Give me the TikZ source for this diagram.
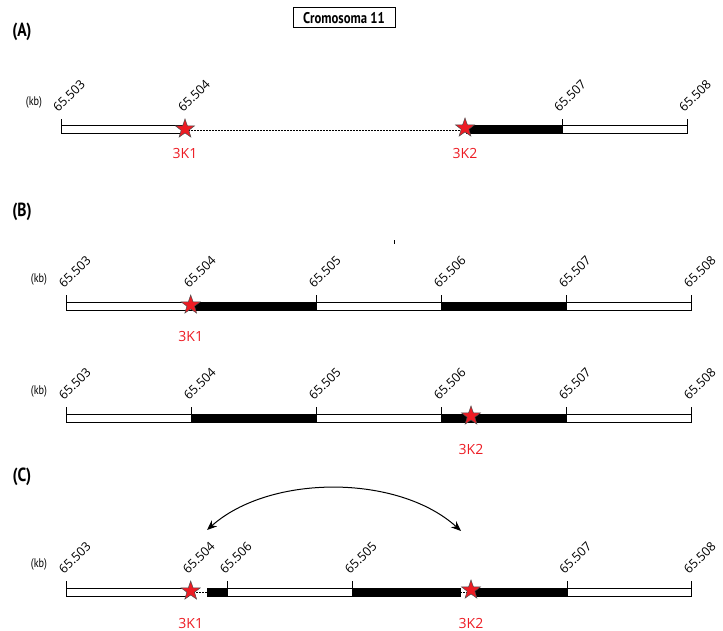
\documentclass[tikz,border=0pt]{standalone}
\usepackage{fontspec}
\setmainfont{Open Sans}
\newfontfamily\cond[FakeStretch=0.82]{PT Sans}
\usetikzlibrary{shapes.geometric,arrows.meta}
\definecolor{kred}{HTML}{ED1C24}
\tikzset{
 whitebar/.style={draw=black,fill=white,line width=1pt},
 blackbar/.style={draw=black,fill=black,line width=1pt},
 tickline/.style={draw=black,line width=1pt},
 ticklabel/.style={rotate=45,anchor=south west,inner sep=0pt,font=\fontsize{12.5}{12.5}\selectfont},
 kstar/.style={star,star points=5,star point ratio=2.5,fill=kred,draw=black!70,line width=0.5pt,minimum size=20pt,inner sep=0pt},
 klabel/.style={text=kred,font=\fontsize{14}{14}\selectfont,inner sep=0pt},
 kblabel/.style={font=\cond\fontsize{12.5}{12.5}\selectfont,inner sep=0pt},
 panel/.style={font=\cond\bfseries\fontsize{19}{19}\selectfont,inner sep=0pt},
 joinline/.style={dash pattern=on 2pt off 1pt,line width=0.9pt},
 arc/.style={{Stealth[length=10pt,width=8pt]}-{Stealth[length=10pt,width=8pt]},line width=1pt}
}
% \tkmark{x}{ybottom}{ytop}{label}{name}
\newcommand{\tkmark}[5]{%
 \draw[tickline] (#1,#2) -- (#1,#3);
 \node[ticklabel] (#5) at ({#1-2.5},{#3-6}) {#4};}
% label only (tick hidden by a star)
\newcommand{\tklab}[4]{%
 \node[ticklabel] (#4) at ({#1-2.5},{#2-6}) {#3};}
\begin{document}
\begin{tikzpicture}[x=1pt,y=-1pt]
\useasboundingbox (0,0) rectangle (723,631);

\node[draw,line width=1pt,minimum width=102pt,minimum height=20pt,inner sep=0pt,
 font=\cond\bfseries\fontsize{15.5}{15.5}\selectfont] (title) at (344,18) {Cromosoma 11};

% ---------------- (A)
\node[panel] (pA) at (22,32) {(A)};
\node[kblabel] (kbA) at (34,102) {(kb)};
\draw[whitebar] (61,126) rectangle (183,134);
\draw[joinline] (185,130) -- (465,130);
\draw[blackbar] (466,126) rectangle (562,134);
\draw[whitebar] (562,126) rectangle (687,134);
\tkmark{61}{134}{119}{65.503}{a1}
\tklab{186}{119}{65.504}{a2}
\tkmark{562}{134}{119}{65.507}{a5}
\tkmark{687}{134}{119}{65.508}{a6}
\node[kstar] (sA1) at (185,129) {};
\node[kstar] (sA2) at (465,128) {};
\node[klabel] (lA1) at (185,154) {3K1};
\node[klabel] (lA2) at (465,154) {3K2};

% ---------------- (B)
\node[panel] (pB) at (22,212) {(B)};
\draw[line width=1pt] (394,240.5) -- (394,244);
% B1
\node[kblabel] (kbB1) at (39,279) {(kb)};
\draw[whitebar] (66.7,302) rectangle (191.7,310);
\draw[blackbar] (191.7,302) rectangle (316.7,310);
\draw[whitebar] (316.7,302) rectangle (441.7,310);
\draw[blackbar] (441.7,302) rectangle (566.7,310);
\draw[whitebar] (566.7,302) rectangle (691.7,310);
\tkmark{66.7}{310}{295}{65.503}{b1}
\tklab{191.7}{295}{65.504}{b2}
\tkmark{316.7}{310}{295}{65.505}{b3}
\tkmark{441.7}{310}{295}{65.506}{b4}
\tkmark{566.7}{310}{295}{65.507}{b5}
\tkmark{691.7}{310}{295}{65.508}{b6}
\node[kstar] (sB1) at (190.7,305) {};
\node[klabel] (lB1) at (190.7,336) {3K1};
% B2
\node[kblabel] (kbB2) at (39,391) {(kb)};
\draw[whitebar] (66.7,414) rectangle (191.7,422);
\draw[blackbar] (191.7,414) rectangle (316.7,422);
\draw[whitebar] (316.7,414) rectangle (441.7,422);
\draw[blackbar] (441.7,414) rectangle (566.7,422);
\draw[whitebar] (566.7,414) rectangle (691.7,422);
\tkmark{66.7}{422}{407}{65.503}{c1}
\tkmark{191.7}{422}{407}{65.504}{c2}
\tkmark{316.7}{422}{407}{65.505}{c3}
\tkmark{441.7}{422}{407}{65.506}{c4}
\tkmark{566.7}{422}{407}{65.507}{c5}
\tkmark{691.7}{422}{407}{65.508}{c6}
\node[kstar] (sB2) at (471,416) {};
\node[klabel] (lB2) at (471,449) {3K2};

% ---------------- (C)
\node[panel] (pC) at (22,477) {(C)};
\node[kblabel] (kbC) at (39,564) {(kb)};
\draw[whitebar] (66.7,588) rectangle (188,596);
\draw[joinline] (190,592) -- (207,592);
\draw[blackbar] (207,588) rectangle (227.7,596);
\draw[whitebar] (227.7,588) rectangle (352.7,596);
\draw[blackbar] (352.7,588) rectangle (460,596);
\draw[joinline] (460,592) -- (475,592);
\draw[blackbar] (475,588) rectangle (567.3,596);
\draw[whitebar] (567.3,588) rectangle (691.7,596);
\tkmark{66.7}{596}{581}{65.503}{d1}
\tklab{190.7}{581}{65.504}{d2}
\tkmark{227.7}{596}{581}{65.506}{d3}
\tkmark{352.7}{596}{581}{65.505}{d4}
\tkmark{567.3}{596}{581}{65.507}{d5}
\tkmark{691.7}{596}{581}{65.508}{d6}
\node[kstar] (sC1) at (190.7,591) {};
\node[kstar] (sC2) at (471,590) {};
\node[klabel] (lC1) at (190.7,623) {3K1};
\node[klabel] (lC2) at (471,623) {3K2};
\coordinate (arrL) at (207,530);
\coordinate (arrR) at (461,531);
\draw[arc] (arrL) .. controls (270,474) and (398,474) .. (arrR);
\end{tikzpicture}
\end{document}
